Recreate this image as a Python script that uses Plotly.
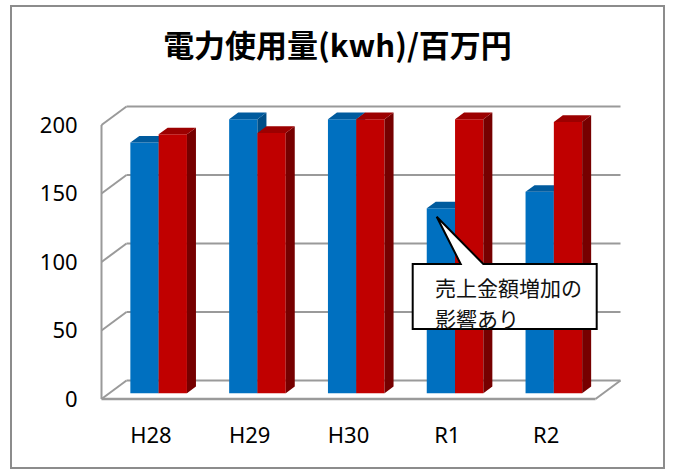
import plotly.graph_objects as go

# ---------------- data ----------------
CATEGORIES = ["H28", "H29", "H30", "R1", "R2"]
SERIES_A_NAME = "電力使用量(kwh)"
SERIES_A = [183, 200, 200, 135, 147]
SERIES_B_NAME = "百万円"
SERIES_B = [189, 190, 200, 200, 198]
Y_TICKS = [0, 50, 100, 150, 200]
TITLE = "電力使用量(kwh)/百万円"
NOTE_LINES = ["売上金額増加の", "影響あり"]

# ---------------- layout constants (pixels) ----------------
W, H = 675, 471
X0 = 150.9          # pixel x of category 0 on the front plane
PXC = 98.8          # pixels per category
Y0 = 399.0          # pixel y of value 0 on the front plane
PYV = 1.37          # pixels per value unit
DEPTH_PX = (25.0, -18.5)   # full depth offset of the box
PL, PR, PT, PB = 95, 635, 90, 410   # plot area in pixels

def px_x(px):
    return (px - X0) / PXC

def px_v(py):
    return (Y0 - py) / PYV

DX = DEPTH_PX[0] / PXC
DV = -DEPTH_PX[1] / PYV
F0, F1 = 0.31, 0.67          # bar front / back depth fraction
BAR_W = 28.3 / PXC
XMIN, XMAX = -0.5, len(CATEGORIES) - 0.5
VMAX = max(Y_TICKS)

BLUE, BLUE_TOP, BLUE_SIDE = "#0070C0", "#005B9E", "#004E87"
RED, RED_TOP, RED_SIDE = "#C00000", "#9C0000", "#760000"
GRID = "#9a9a9a"
FONT = "Noto Sans, Noto Sans CJK JP, sans-serif"
CJK = "Noto Sans CJK JP, Noto Sans, sans-serif"

fig = go.Figure()

def add_series(values, name, front, top, side, xa, ya, shift):
    b0 = F0 * DV
    xs = [i + shift + F0 * DX for i in range(len(values))]
    fig.add_trace(go.Bar(
        x=xs, y=values, base=[b0] * len(values), width=BAR_W,
        marker=dict(color=front, line=dict(width=0)), name=name,
        xaxis=xa, yaxis=ya, showlegend=False, hoverinfo="skip"))
    ddx, ddv = (F1 - F0) * DX, (F1 - F0) * DV
    sx, sy, tx, ty = [], [], [], []
    for xc, v in zip(xs, values):
        xl, xr = xc - BAR_W / 2, xc + BAR_W / 2
        sx += [xr, xr + ddx, xr + ddx, xr, xr, None]
        sy += [b0, b0 + ddv, b0 + v + ddv, b0 + v, b0, None]
        tx += [xl, xr, xr + ddx, xl + ddx, xl, None]
        ty += [b0 + v, b0 + v, b0 + v + ddv, b0 + v + ddv, b0 + v, None]
    fig.add_trace(go.Scatter(x=sx, y=sy, fill="toself", fillcolor=side,
                             mode="lines", line=dict(width=0, color=side),
                             xaxis=xa, yaxis=ya, showlegend=False, hoverinfo="skip"))
    fig.add_trace(go.Scatter(x=tx, y=ty, fill="toself", fillcolor=top,
                             mode="lines", line=dict(width=0, color=top),
                             xaxis=xa, yaxis=ya, showlegend=False, hoverinfo="skip"))

add_series(SERIES_A, SERIES_A_NAME, BLUE, BLUE_TOP, BLUE_SIDE, "x", "y", -BAR_W / 2)
add_series(SERIES_B, SERIES_B_NAME, RED, RED_TOP, RED_SIDE, "x2", "y2", BAR_W / 2)

shapes = []
def line(x0, y0, x1, y1, width=2, color=GRID):
    shapes.append(dict(type="line", xref="x", yref="y", x0=x0, y0=y0, x1=x1, y1=y1,
                       line=dict(color=color, width=width), layer="below"))

# back wall gridlines + left wall diagonals
for t in Y_TICKS:
    line(XMIN + DX, t + DV, XMAX + DX, t + DV)
    line(XMIN, t, XMIN + DX, t + DV)
# front-left vertical edge
line(XMIN, 0, XMIN, VMAX)
# floor front edge and right diagonal
line(XMIN, 0, XMAX, 0, width=2.5)
line(XMAX, 0, XMAX + DX, DV)

# outer chart border (paper coords)
pw, ph = PR - PL, PB - PT
def paper_x(px):
    return (px - PL) / pw
def paper_y(py):
    return (PB - py) / ph
shapes.append(dict(type="rect", xref="paper", yref="paper",
                   x0=paper_x(11), x1=paper_x(664), y0=paper_y(468), y1=paper_y(6),
                   line=dict(color="#8c8c8c", width=2), fillcolor="rgba(0,0,0,0)",
                   layer="below"))

# callout (wedge rectangle) pointing at R1 blue bar
bx0, bx1, by0, by1 = 412.7, 596.7, 264, 329
tip = (436.7, 216.7)
wl, wr = 460.7, 483.3
pts = [(bx0, by0), (wl, by0), tip, (wr, by0), (bx1, by0), (bx1, by1), (bx0, by1)]
path = "M " + " L ".join(f"{px_x(a):.5f},{px_v(b):.5f}" for a, b in pts) + " Z"
shapes.append(dict(type="path", xref="x", yref="y", path=path,
                   fillcolor="white", line=dict(color="black", width=2), layer="above"))

annotations = []
for k, (txt, cy) in enumerate(zip(NOTE_LINES, [287.3, 318.3])):
    annotations.append(dict(x=px_x(433), y=px_v(cy), xref="x", yref="y",
                            text=txt, showarrow=False, xanchor="left", yanchor="middle",
                            font=dict(family=CJK, size=21, color="#111111")))

xr = [px_x(PL), px_x(PR)]
yr = [px_v(PB), px_v(PT)]

fig.update_layout(
    width=W, height=H,
    margin=dict(l=PL, r=W - PR, t=PT, b=H - PB, pad=0),
    paper_bgcolor="white", plot_bgcolor="rgba(0,0,0,0)",
    barmode="overlay",
    showlegend=False,
    title=dict(text=f"<b>{TITLE}</b>", x=0.5, xref="container", xanchor="center",
               y=1 - 46 / H, yref="container", yanchor="middle",
               font=dict(family=CJK, size=31, color="black")),
    xaxis=dict(range=xr, tickvals=list(range(len(CATEGORIES))), ticktext=CATEGORIES,
               showgrid=False, zeroline=False, showline=False,
               ticks="outside", ticklen=6, tickcolor="rgba(0,0,0,0)",
               tickfont=dict(family=FONT, size=22, color="black"), fixedrange=True),
    yaxis=dict(range=yr, tickvals=Y_TICKS, showgrid=False, zeroline=False, showline=False,
               ticks="outside", ticklen=12, tickcolor="rgba(0,0,0,0)",
               tickfont=dict(family=FONT, size=22, color="black"), fixedrange=True),
    xaxis2=dict(range=xr, overlaying="x", anchor="y2", visible=False, fixedrange=True),
    yaxis2=dict(range=yr, overlaying="y", anchor="x2", visible=False, fixedrange=True),
    shapes=shapes,
    annotations=annotations,
)

fig.write_html("out.html")
